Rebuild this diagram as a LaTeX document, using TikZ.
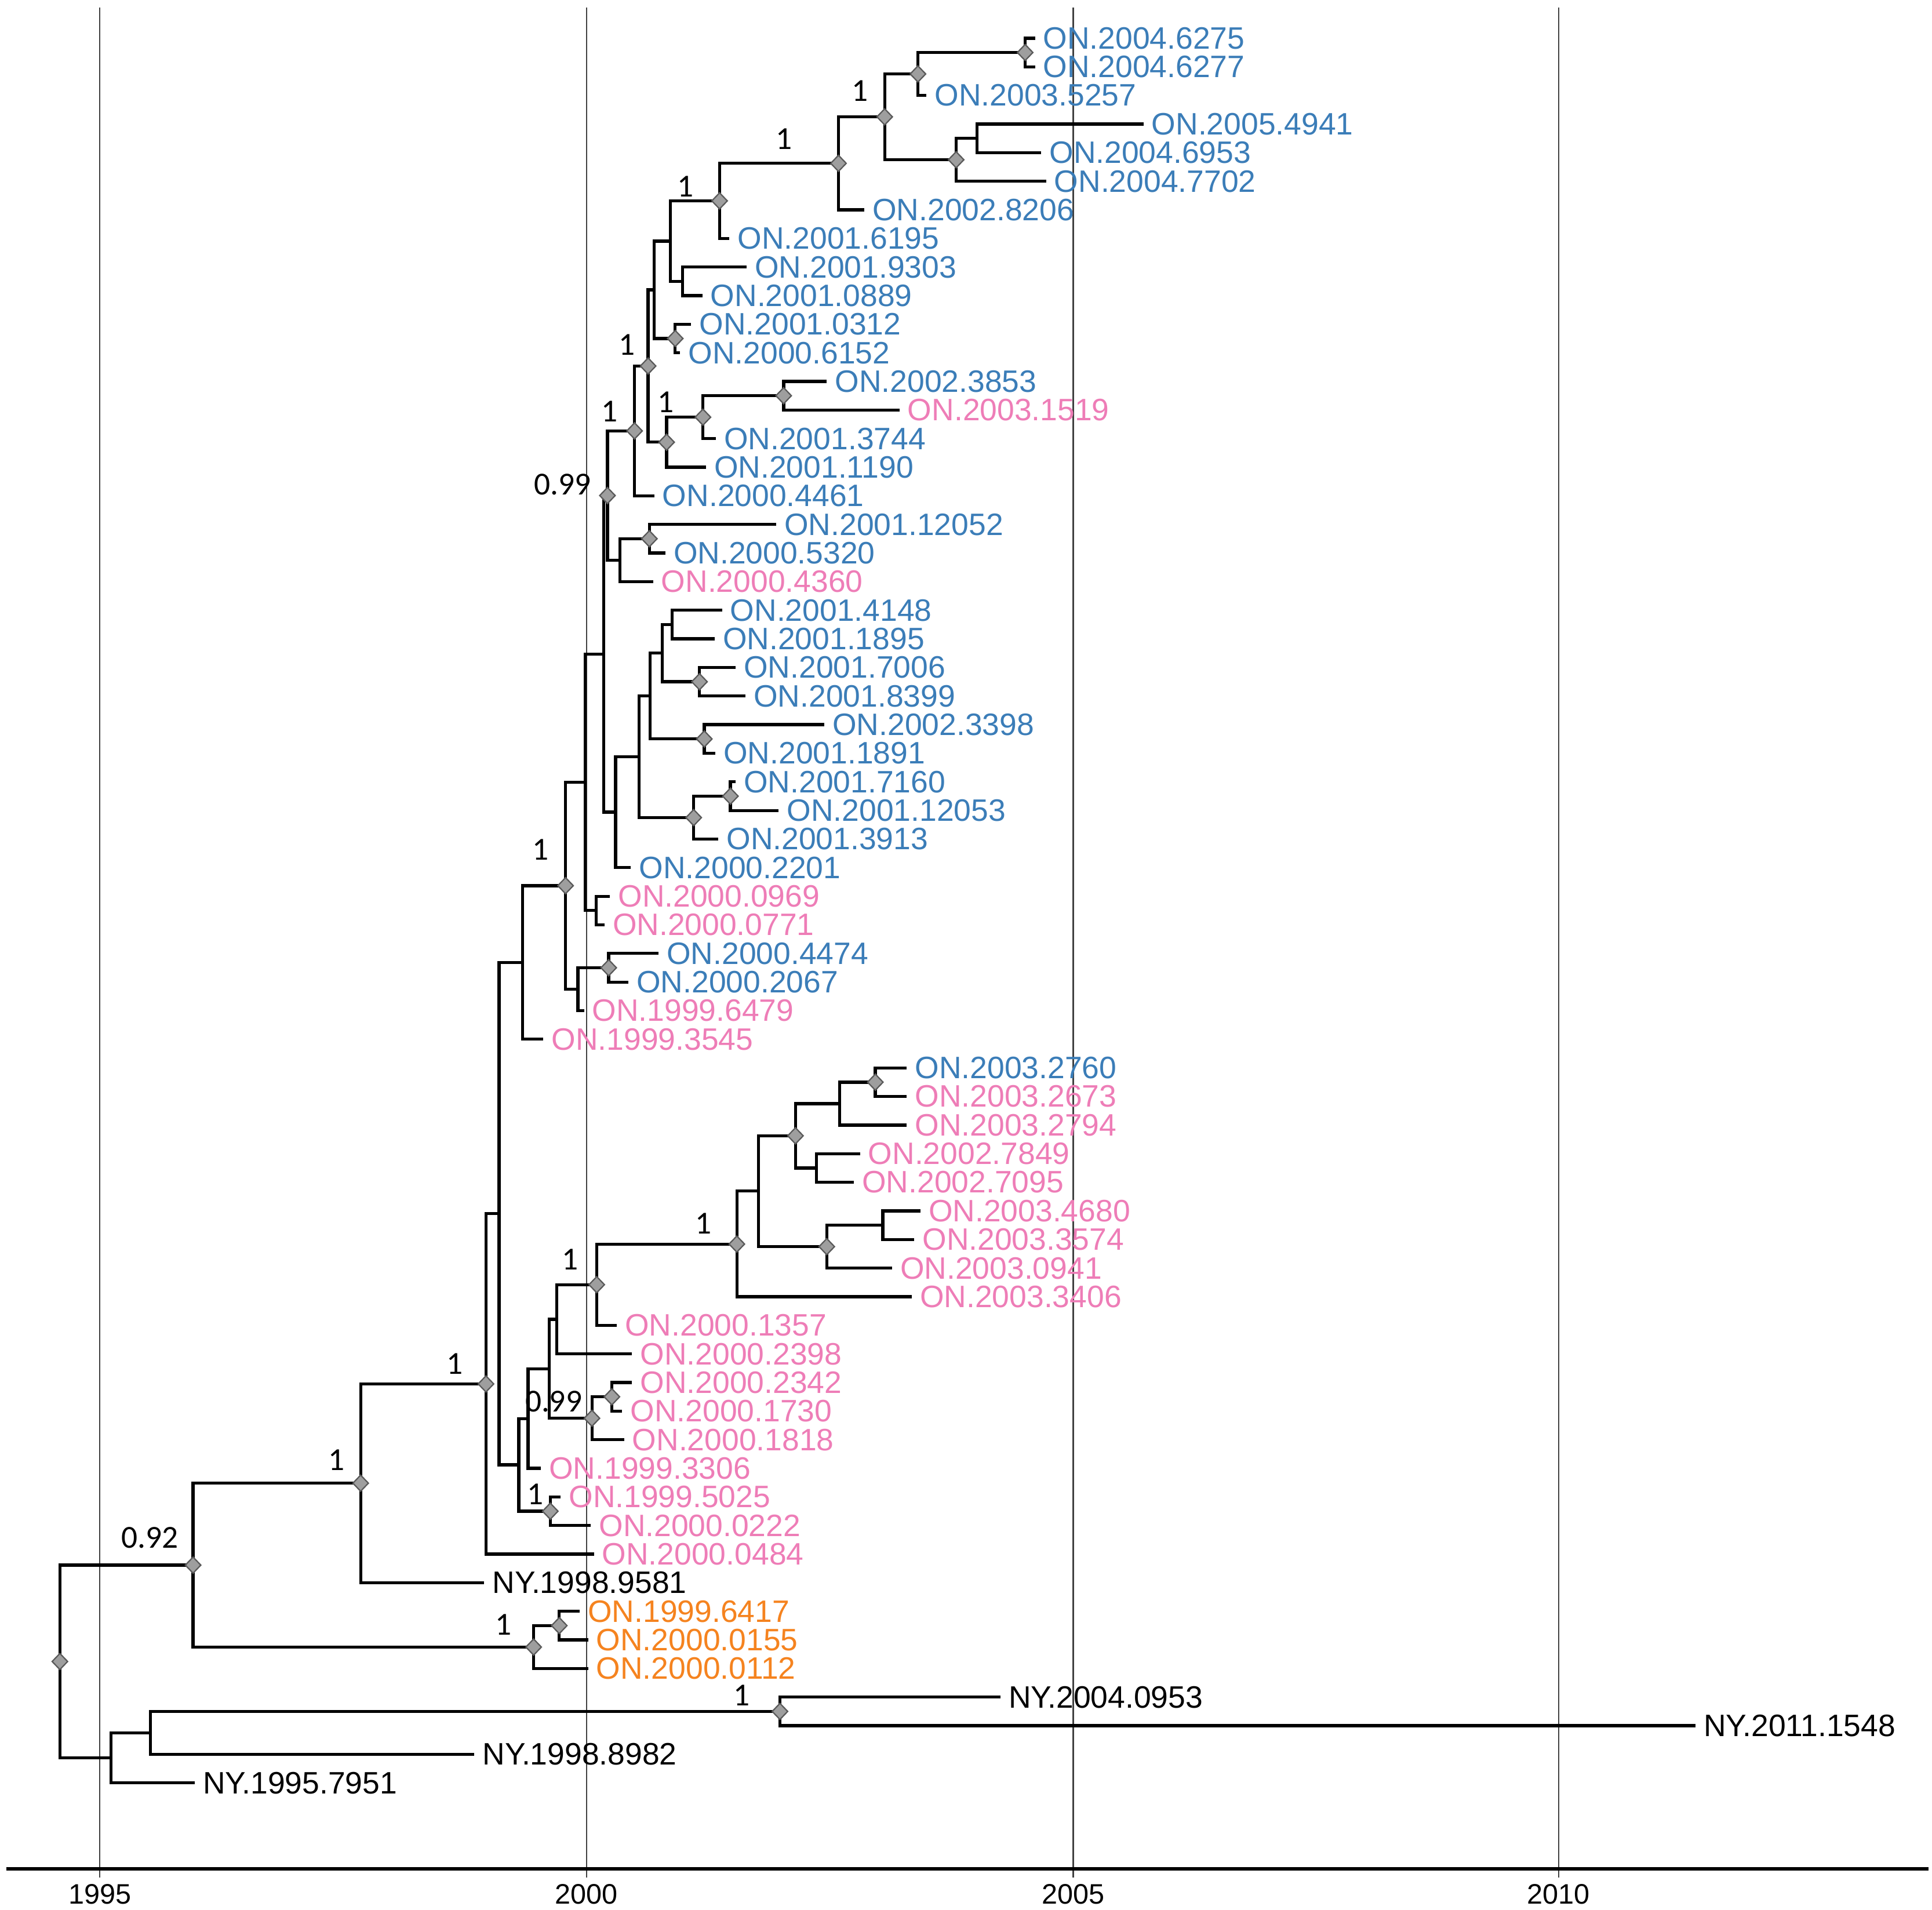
\documentclass[tikz,border=0pt]{standalone}
\usepackage{fontspec}
\setmainfont{Liberation Sans}
\newfontfamily\supportfont{Carlito}
\usepackage{xcolor}
\usepackage{tikz}
\usetikzlibrary{shapes.geometric}

\definecolor{onblue}{HTML}{3B7DB8}
\definecolor{onpink}{HTML}{EE7DB7}
\definecolor{onorange}{HTML}{F5831F}

\begin{document}
\begin{tikzpicture}[x=0.01cm, y=-0.232cm,
    branch/.style={line width=0.7pt, black},
    grid/.style={line width=0.3pt, black!75},
    axis/.style={line width=0.75pt, black},
    bnode/.style={diamond, draw=black!65, fill=black!38, line width=0.3pt,
                  inner sep=0pt, minimum width=1.3mm, minimum height=1.35mm},
    tip/.style={anchor=west, inner xsep=0.6mm, inner ysep=0pt,
                font=\fontsize{7.15}{8}\selectfont},
    support/.style={inner sep=0pt, font=\supportfont\fontsize{7.4}{8}\selectfont},
    tick/.style={inner sep=0pt, font=\fontsize{6.5}{7.5}\selectfont}]

    % Frame
    \useasboundingbox (0,-0.336) rectangle (1568,66.431);

    % Time grid and axis
    \foreach \yr/\gx in {1995/81, 2000/476, 2005/871, 2010/1265} {
        \draw[grid] (\gx,-0.08) -- (\gx,65.31);
        \node[tick] (y\yr) at (\gx,65.9) {\yr};
    }
    \draw[axis] (5,65.01) -- (1565,65.01);

    % Internal nodes
    \coordinate (n1) at (832,1.5);
    \coordinate (n2) at (745,2.25);
    \coordinate (n3) at (793,4.5);
    \coordinate (n4) at (776,5.25);
    \coordinate (n5) at (718,3.75);
    \coordinate (n6) at (680.5,5.375);
    \coordinate (n7) at (584,6.6875);
    \coordinate (n8) at (554,9.5);
    \coordinate (n9) at (544,8.094);
    \coordinate (n10) at (548,11.5);
    \coordinate (n11) at (531,9.797);
    \coordinate (n12) at (636,13.5);
    \coordinate (n13) at (570.5,14.25);
    \coordinate (n14) at (541,15.125);
    \coordinate (n15) at (526,12.461);
    \coordinate (n16) at (515,14.73);
    \coordinate (n17) at (527,18.5);
    \coordinate (n18) at (503,19.25);
    \coordinate (n19) at (493,16.99);
    \coordinate (n20) at (545.6,21.5);
    \coordinate (n21) at (567.7,23.5);
    \coordinate (n22) at (537.5,22.5);
    \coordinate (n23) at (571.6,25.5);
    \coordinate (n24) at (527.5,24);
    \coordinate (n25) at (592.8,27.5);
    \coordinate (n26) at (563,28.25);
    \coordinate (n27) at (518.5,26.125);
    \coordinate (n28) at (499.6,28.06);
    \coordinate (n29) at (490,22.53);
    \coordinate (n30) at (484,31.5);
    \coordinate (n31) at (475,27.01);
    \coordinate (n32) at (494,33.5);
    \coordinate (n33) at (469,34.25);
    \coordinate (n34) at (459,30.63);
    \coordinate (n35) at (424,33.31);
    \coordinate (n36) at (710.4,37.5);
    \coordinate (n37) at (681.6,38.25);
    \coordinate (n38) at (662.5,40.5);
    \coordinate (n39) at (645.6,39.375);
    \coordinate (n40) at (716.5,42.5);
    \coordinate (n41) at (671,43.25);
    \coordinate (n42) at (615.7,41.31);
    \coordinate (n43) at (598,43.16);
    \coordinate (n44) at (484.3,44.58);
    \coordinate (n45) at (452,45.79);
    \coordinate (n46) at (496.6,48.5);
    \coordinate (n47) at (480.4,49.25);
    \coordinate (n48) at (445.7,47.52);
    \coordinate (n49) at (428.6,49.26);
    \coordinate (n50) at (446.6,52.5);
    \coordinate (n51) at (421,50.88);
    \coordinate (n52) at (405,42.1);
    \coordinate (n53) at (394.4,48.05);
    \coordinate (n54) at (292.7,51.52);
    \coordinate (n55) at (453.9,56.5);
    \coordinate (n56) at (433.1,57.25);
    \coordinate (n57) at (156.7,54.385);
    \coordinate (n58) at (633,59.5);
    \coordinate (n59) at (122,60.25);
    \coordinate (n60) at (90,61.125);
    \coordinate (n61) at (48.6,57.755);

    % Tips
    \node[tip, onblue] (t1) at (840,1) {ON.2004.6275};
    \node[tip, onblue] (t2) at (840,2) {ON.2004.6277};
    \node[tip, onblue] (t3) at (752,3) {ON.2003.5257};
    \node[tip, onblue] (t4) at (928,4) {ON.2005.4941};
    \node[tip, onblue] (t5) at (845,5) {ON.2004.6953};
    \node[tip, onblue] (t6) at (849,6) {ON.2004.7702};
    \node[tip, onblue] (t7) at (701.5,7) {ON.2002.8206};
    \node[tip, onblue] (t8) at (592,8) {ON.2001.6195};
    \node[tip, onblue] (t9) at (606,9) {ON.2001.9303};
    \node[tip, onblue] (t10) at (570,10) {ON.2001.0889};
    \node[tip, onblue] (t11) at (561,11) {ON.2001.0312};
    \node[tip, onblue] (t12) at (552,12) {ON.2000.6152};
    \node[tip, onblue] (t13) at (671,13) {ON.2002.3853};
    \node[tip, onpink] (t14) at (730,14) {ON.2003.1519};
    \node[tip, onblue] (t15) at (581,15) {ON.2001.3744};
    \node[tip, onblue] (t16) at (573,16) {ON.2001.1190};
    \node[tip, onblue] (t17) at (531,17) {ON.2000.4461};
    \node[tip, onblue] (t18) at (630,18) {ON.2001.12052};
    \node[tip, onblue] (t19) at (540,19) {ON.2000.5320};
    \node[tip, onpink] (t20) at (530,20) {ON.2000.4360};
    \node[tip, onblue] (t21) at (586,21) {ON.2001.4148};
    \node[tip, onblue] (t22) at (580,22) {ON.2001.1895};
    \node[tip, onblue] (t23) at (597,23) {ON.2001.7006};
    \node[tip, onblue] (t24) at (605,24) {ON.2001.8399};
    \node[tip, onblue] (t25) at (669,25) {ON.2002.3398};
    \node[tip, onblue] (t26) at (580.6,26) {ON.2001.1891};
    \node[tip, onblue] (t27) at (597,27) {ON.2001.7160};
    \node[tip, onblue] (t28) at (632,28) {ON.2001.12053};
    \node[tip, onblue] (t29) at (583,29) {ON.2001.3913};
    \node[tip, onblue] (t30) at (512,30) {ON.2000.2201};
    \node[tip, onpink] (t31) at (495,31) {ON.2000.0969};
    \node[tip, onpink] (t32) at (490.6,32) {ON.2000.0771};
    \node[tip, onblue] (t33) at (534.5,33) {ON.2000.4474};
    \node[tip, onblue] (t34) at (510,34) {ON.2000.2067};
    \node[tip, onpink] (t35) at (474,35) {ON.1999.6479};
    \node[tip, onpink] (t36) at (441,36) {ON.1999.3545};
    \node[tip, onblue] (t37) at (736,37) {ON.2003.2760};
    \node[tip, onpink] (t38) at (736,38) {ON.2003.2673};
    \node[tip, onpink] (t39) at (736,39) {ON.2003.2794};
    \node[tip, onpink] (t40) at (698,40) {ON.2002.7849};
    \node[tip, onpink] (t41) at (693,41) {ON.2002.7095};
    \node[tip, onpink] (t42) at (747,42) {ON.2003.4680};
    \node[tip, onpink] (t43) at (742,43) {ON.2003.3574};
    \node[tip, onpink] (t44) at (724,44) {ON.2003.0941};
    \node[tip, onpink] (t45) at (740,45) {ON.2003.3406};
    \node[tip, onpink] (t46) at (500.6,46) {ON.2000.1357};
    \node[tip, onpink] (t47) at (513,47) {ON.2000.2398};
    \node[tip, onpink] (t48) at (513,48) {ON.2000.2342};
    \node[tip, onpink] (t49) at (505,49) {ON.2000.1730};
    \node[tip, onpink] (t50) at (506.5,50) {ON.2000.1818};
    \node[tip, onpink] (t51) at (439,51) {ON.1999.3306};
    \node[tip, onpink] (t52) at (455,52) {ON.1999.5025};
    \node[tip, onpink] (t53) at (479.5,53) {ON.2000.0222};
    \node[tip, onpink] (t54) at (482,54) {ON.2000.0484};
    \node[tip] (t55) at (393,55) {NY.1998.9581};
    \node[tip, onorange] (t56) at (470.5,56) {ON.1999.6417};
    \node[tip, onorange] (t57) at (477.3,57) {ON.2000.0155};
    \node[tip, onorange] (t58) at (477.3,58) {ON.2000.0112};
    \node[tip] (t59) at (812,59) {NY.2004.0953};
    \node[tip] (t60) at (1376,60) {NY.2011.1548};
    \node[tip] (t61) at (385,61) {NY.1998.8982};
    \node[tip] (t62) at (158,62) {NY.1995.7951};

    % Branches (parent/child)
    \foreach \p/\c in {n1/t1, n1/t2, n2/n1, n2/t3, n3/t4, n3/t5, n4/n3, n4/t6,
        n5/n2, n5/n4, n6/n5, n6/t7, n7/n6, n7/t8, n8/t9, n8/t10, n9/n7, n9/n8,
        n10/t11, n10/t12, n11/n9, n11/n10, n12/t13, n12/t14, n13/n12, n13/t15,
        n14/n13, n14/t16, n15/n11, n15/n14, n16/n15, n16/t17, n17/t18, n17/t19,
        n18/n17, n18/t20, n19/n16, n19/n18, n20/t21, n20/t22, n21/t23, n21/t24,
        n22/n20, n22/n21, n23/t25, n23/t26, n24/n22, n24/n23, n25/t27, n25/t28,
        n26/n25, n26/t29, n27/n24, n27/n26, n28/n27, n28/t30, n29/n19, n29/n28,
        n30/t31, n30/t32, n31/n29, n31/n30, n32/t33, n32/t34, n33/n32, n33/t35,
        n34/n31, n34/n33, n35/n34, n35/t36, n36/t37, n36/t38, n37/n36, n37/t39,
        n38/t40, n38/t41, n39/n37, n39/n38, n40/t42, n40/t43, n41/n40, n41/t44,
        n42/n39, n42/n41, n43/n42, n43/t45, n44/n43, n44/t46, n45/n44, n45/t47,
        n46/t48, n46/t49, n47/n46, n47/t50, n48/n45, n48/n47, n49/n48, n49/t51,
        n50/t52, n50/t53, n51/n49, n51/n50, n52/n35, n52/n51, n53/n52, n53/t54,
        n54/n53, n54/t55, n55/t56, n55/t57, n56/n55, n56/t58, n57/n54, n57/n56,
        n58/t59, n58/t60, n59/n58, n59/t61, n60/n59, n60/t62, n61/n57, n61/n60}
        \draw[branch] (\p) |- (\c);

    % Supported nodes
    \foreach \n in {n1, n2, n4, n5, n6, n7, n10, n12, n13, n14, n15, n16, n17,
        n19, n21, n23, n25, n26, n32, n34, n36, n39, n41, n43, n44, n46, n47,
        n50, n53, n54, n55, n56, n57, n58, n61}
        \node[bnode] (d\n) at (\n) {};

    % Posterior values
    \node[support] (s1) at (698,2.84) {1};
    \node[support] (s2) at (636.5,4.53) {1};
    \node[support] (s3) at (556.4,6.19) {1};
    \node[support] (s4) at (509,11.71) {1};
    \node[support] (s5) at (540.4,13.72) {1};
    \node[support] (s6) at (494.5,14.04) {1};
    \node[support] (s7) at (456.5,16.6) {0.99};
    \node[support] (s8) at (438.5,29.36) {1};
    \node[support] (s9) at (571,42.45) {1};
    \node[support] (s10) at (462.7,43.7) {1};
    \node[support] (s11) at (449.3,48.67) {0.99};
    \node[support] (s12) at (434.5,51.91) {1};
    \node[support] (s13) at (369.2,47.35) {1};
    \node[support] (s14) at (273.3,50.72) {1};
    \node[support] (s15) at (121.6,53.43) {0.92};
    \node[support] (s16) at (408.8,56.47) {1};
    \node[support] (s17) at (602,58.93) {1};
\end{tikzpicture}
\end{document}
